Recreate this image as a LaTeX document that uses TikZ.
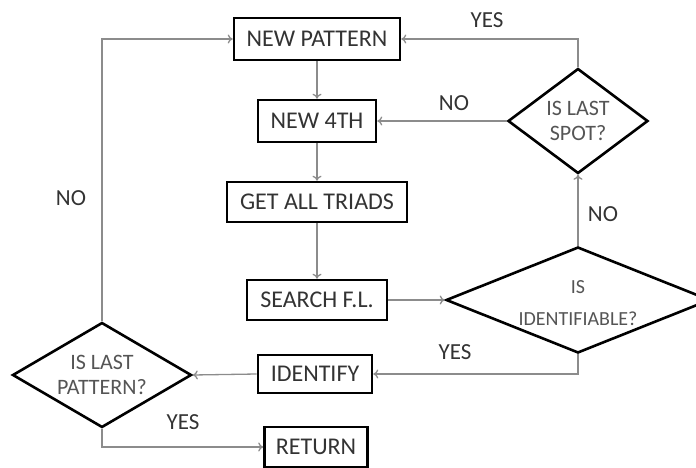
\documentclass[tikz,border=0pt]{standalone}
\usepackage{fontspec}
\setmainfont{Carlito}
\usetikzlibrary{shapes.geometric,arrows.meta}
\definecolor{linegray}{HTML}{8C8C8C}
\definecolor{textgray}{HTML}{333333}
\definecolor{qgray}{HTML}{555555}
\begin{document}
\begin{tikzpicture}[x=1pt,y=-1pt,
  stepbox/.style={draw=black,line width=2.6pt,fill=white,inner sep=0pt,
    font=\fontsize{24}{27}\selectfont,text=textgray},
  decision/.style={diamond,draw=black,line width=2.6pt,fill=white,inner sep=0pt},
  question/.style={font=\fontsize{22}{25}\selectfont,text=qgray,align=center,inner sep=0pt},
  flow/.style={draw=linegray,line width=1.3pt,-{To[length=5pt,width=9pt]}},
  answer/.style={font=\fontsize{23}{26}\selectfont,text=textgray}]
\useasboundingbox (0,0) rectangle (696,468);

% process steps
\node[stepbox,minimum width=166pt,minimum height=42pt] (np)  at (317,39)  {NEW PATTERN};
\node[stepbox,minimum width=118pt,minimum height=42pt] (n4)  at (317,121) {NEW 4TH};
\node[stepbox,minimum width=180pt,minimum height=40pt] (gat) at (317,202) {GET ALL TRIADS};
\node[stepbox,minimum width=140pt,minimum height=40pt] (sfl) at (317,300) {SEARCH F.L.};
\node[stepbox,minimum width=114pt,minimum height=38pt] (idf) at (315,374) {IDENTIFY};
\node[stepbox,minimum width=103pt,minimum height=40pt] (ret) at (316,447) {RETURN};

% decisions: fixed diamond outlines, questions set as centred labels
\node[decision,minimum width=140pt,minimum height=105pt,
  label={[question]center:{IS LAST\\SPOT?}}] (spot) at (578,121) {};
\node[decision,minimum width=264pt,minimum height=106pt,
  label={[question,font=\fontsize{20}{24}\selectfont,yshift=-3pt]center:{IS\\[8pt]IDENTIFIABLE?}}] (isid) at (578,300) {};
\node[decision,minimum width=179pt,minimum height=105pt,
  label={[question]center:{IS LAST\\PATTERN?}}] (ilp) at (102,375) {};

% connectors
\draw[flow] (np) -- (n4);
\draw[flow] (n4) -- (gat);
\draw[flow] (gat) -- (sfl);
\draw[flow] (sfl.east) -- (isid.west);
\draw[flow] (isid.south) |- (idf.east);
\draw[flow] (isid.north) -- (spot.south);
\draw[flow] (spot.west) -- (n4.east);
\draw[flow] (spot.north) |- (np.east);
\draw[flow] (idf.west) -- (ilp.east);
\draw[flow] (ilp.north) |- (np.west);
\draw[flow] (ilp.south) |- (ret.west);

% branch labels
\node[answer] (yes1) at (487,20)  {YES};
\node[answer] (no1)  at (454,103) {NO};
\node[answer] (no2)  at (603,214) {NO};
\node[answer] (yes2) at (455,352) {YES};
\node[answer] (no3)  at (71,198)  {NO};
\node[answer] (yes3) at (183,422) {YES};
\end{tikzpicture}
\end{document}
